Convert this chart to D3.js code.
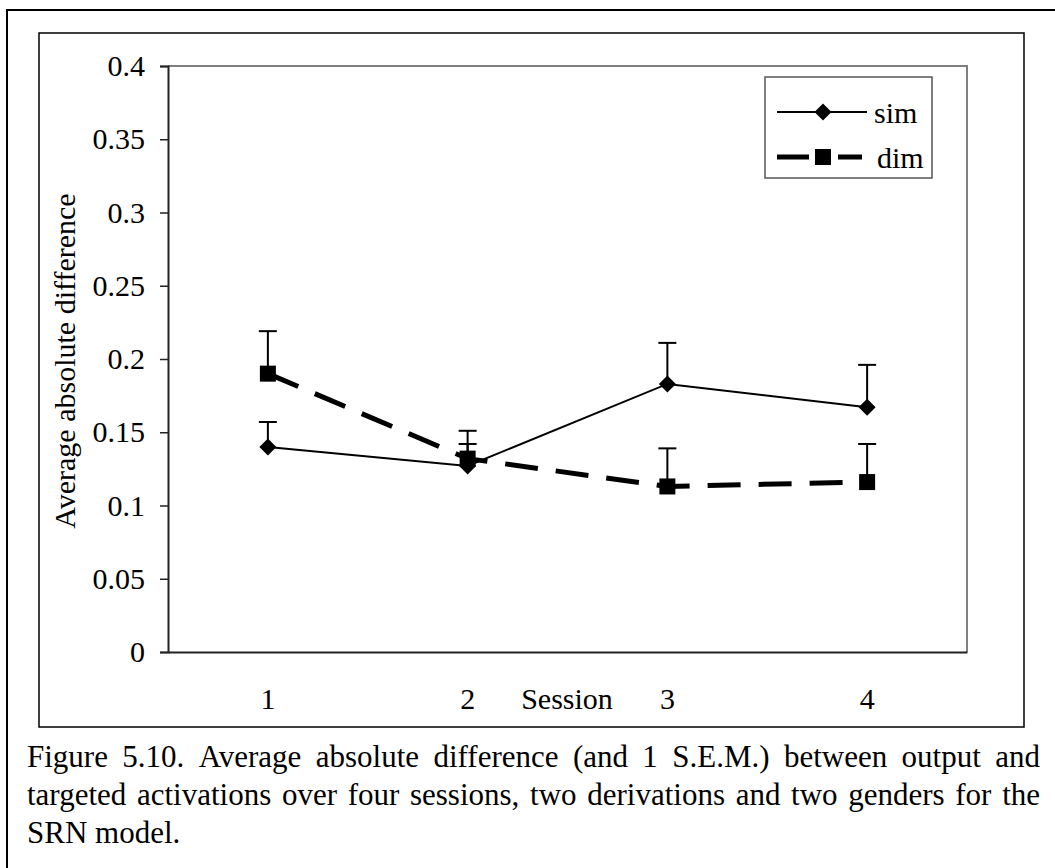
<!DOCTYPE html>
<html>
<head>
<meta charset="utf-8">
<script src="https://cdn.jsdelivr.net/npm/d3@7"></script>
<style>
  html, body { margin: 0; padding: 0; background: #fff; }
  svg { display: block; }
  text { font-family: "Liberation Serif", "Times New Roman", "DejaVu Serif", serif; fill: #000; }
</style>
</head>
<body>
<svg id="chart" width="1055" height="868"></svg>
<script>
// ---- data ----
const sessions = ["1", "2", "3", "4"];
const seriesNames = ["sim", "dim"];
const simValues = [0.140, 0.127, 0.183, 0.167];
const simErrors = [0.017, 0.015, 0.028, 0.029];
const dimValues = [0.190, 0.132, 0.113, 0.116];
const dimErrors = [0.029, 0.019, 0.026, 0.026];
const yTicks = [0, 0.05, 0.1, 0.15, 0.2, 0.25, 0.3, 0.35, 0.4];
const yTickLabels = ["0", "0.05", "0.1", "0.15", "0.2", "0.25", "0.3", "0.35", "0.4"];
const yTitle = "Average absolute difference";
const xTitle = "Session";
const captionLines = [
  "Figure 5.10. Average absolute difference (and 1 S.E.M.) between output and",
  "targeted activations over four sessions, two derivations and two genders for the",
  "SRN model."
];

const FONT = "Liberation Serif, Times New Roman, serif";
const svg = d3.select("#chart");
const W = 1055, H = 868;
svg.append("rect").attr("width", W).attr("height", H).attr("fill", "#fff");

// outer frame (extends beyond picture) and inner chart frame
svg.append("rect").attr("x", 7).attr("y", 10).attr("width", 1060).attr("height", 880)
  .attr("fill", "none").attr("stroke", "#000").attr("stroke-width", 2);
svg.append("rect").attr("x", 39).attr("y", 33).attr("width", 985).attr("height", 694)
  .attr("fill", "none").attr("stroke", "#000").attr("stroke-width", 1.5);

const plot = { left: 168, right: 967, top: 66, bottom: 652 };
const x = d3.scaleBand().domain(sessions).range([plot.left, plot.right]).padding(0);
const y = d3.scaleLinear().domain([0, 0.4]).range([plot.bottom, plot.top]);
const cx = d => x(d) + x.bandwidth() / 2;

// plot area border (top/right gray)
svg.append("path")
  .attr("d", `M${plot.left},${plot.top}H${plot.right}V${plot.bottom}`)
  .attr("fill", "none").attr("stroke", "#808080").attr("stroke-width", 2);

// y axis
const yAxis = d3.axisLeft(y).tickValues(yTicks)
  .tickFormat((d, i) => yTickLabels[i]).tickSize(8).tickPadding(15);
const gy = svg.append("g").attr("transform", `translate(${plot.left},0)`).call(yAxis);
gy.select(".domain").attr("stroke", "#222").attr("stroke-width", 2);
gy.selectAll(".tick line").attr("stroke", "#222").attr("stroke-width", 1.5);
gy.selectAll(".tick text").attr("font-size", 30).attr("font-family", FONT).attr("fill", "#000");

// x axis
const xAxis = d3.axisBottom(x).tickSize(0).tickPadding(0);
const gx = svg.append("g").attr("transform", `translate(0,${plot.bottom})`).call(xAxis);
gx.select(".domain").attr("stroke", "#222").attr("stroke-width", 2);
gx.selectAll(".tick text").attr("font-size", 30).attr("font-family", FONT)
  .attr("fill", "#000").attr("y", 46).attr("dy", "0.35em");

// axis titles
svg.append("text").attr("x", 567).attr("y", plot.bottom + 46).attr("dy", "0.35em")
  .attr("text-anchor", "middle").attr("font-size", 30).text(xTitle);
svg.append("text")
  .attr("transform", `translate(75,${(plot.top + plot.bottom) / 2 + 2}) rotate(-90)`)
  .attr("text-anchor", "middle").attr("font-size", 30).text(yTitle);

const series = [
  { name: seriesNames[0], values: simValues, errors: simErrors, width: 2, dash: null, marker: "diamond" },
  { name: seriesNames[1], values: dimValues, errors: dimErrors, width: 5, dash: "33,18", marker: "square" }
];

const line = d3.line().x((d, i) => cx(sessions[i])).y(d => y(d));

function drawMarker(g, type, px, py) {
  if (type === "diamond") {
    g.append("path").attr("d", `M${px},${py - 8.5}L${px + 8.5},${py}L${px},${py + 8.5}L${px - 8.5},${py}Z`)
      .attr("fill", "#000");
  } else {
    g.append("rect").attr("x", px - 8).attr("y", py - 8).attr("width", 16).attr("height", 16)
      .attr("fill", "#000");
  }
}

series.forEach(s => {
  const g = svg.append("g");
  // error bars (upper only)
  s.values.forEach((v, i) => {
    const px = cx(sessions[i]);
    const top = y(v + s.errors[i]);
    g.append("line").attr("x1", px).attr("x2", px).attr("y1", y(v)).attr("y2", top)
      .attr("stroke", "#000").attr("stroke-width", 2);
    g.append("line").attr("x1", px - 9).attr("x2", px + 9).attr("y1", top).attr("y2", top)
      .attr("stroke", "#000").attr("stroke-width", 2);
  });
  g.append("path").attr("d", line(s.values)).attr("fill", "none")
    .attr("stroke", "#000").attr("stroke-width", s.width)
    .attr("stroke-dasharray", s.dash);
  s.values.forEach((v, i) => drawMarker(g, s.marker, cx(sessions[i]), y(v)));
});

// legend
const lg = svg.append("g");
lg.append("rect").attr("x", 765).attr("y", 77).attr("width", 167).attr("height", 101)
  .attr("fill", "#fff").attr("stroke", "#555").attr("stroke-width", 1.5);
const legendRows = [112, 157];
series.forEach((s, i) => {
  const ly = legendRows[i];
  if (s.dash) {
    lg.append("line").attr("x1", 777).attr("x2", 809).attr("y1", ly).attr("y2", ly)
      .attr("stroke", "#000").attr("stroke-width", s.width);
    lg.append("line").attr("x1", 838).attr("x2", 862).attr("y1", ly).attr("y2", ly)
      .attr("stroke", "#000").attr("stroke-width", s.width);
  } else {
    lg.append("line").attr("x1", 777).attr("x2", 867).attr("y1", ly).attr("y2", ly)
      .attr("stroke", "#000").attr("stroke-width", s.width);
  }
  drawMarker(lg, s.marker, 823, ly);
  lg.append("text").attr("x", s.dash ? 877 : 874).attr("y", ly).attr("dy", "0.35em")
    .attr("font-size", 30).text(s.name);
});

// caption, justified
const capX0 = 27, capX1 = 1040;
const capBaselines = [767, 805, 843];
captionLines.forEach((ln, li) => {
  const words = ln.split(" ");
  const justify = li < captionLines.length - 1;
  const g = svg.append("g");
  const nodes = words.map(w => g.append("text").attr("y", capBaselines[li]).attr("font-size", 31).text(w));
  const widths = nodes.map(n => n.node().getComputedTextLength());
  const total = d3.sum(widths);
  const spaceW = justify ? (capX1 - capX0 - total) / (words.length - 1) : 7.75;
  let xp = capX0;
  nodes.forEach((n, i) => { n.attr("x", xp); xp += widths[i] + spaceW; });
});
</script>
</body>
</html>
